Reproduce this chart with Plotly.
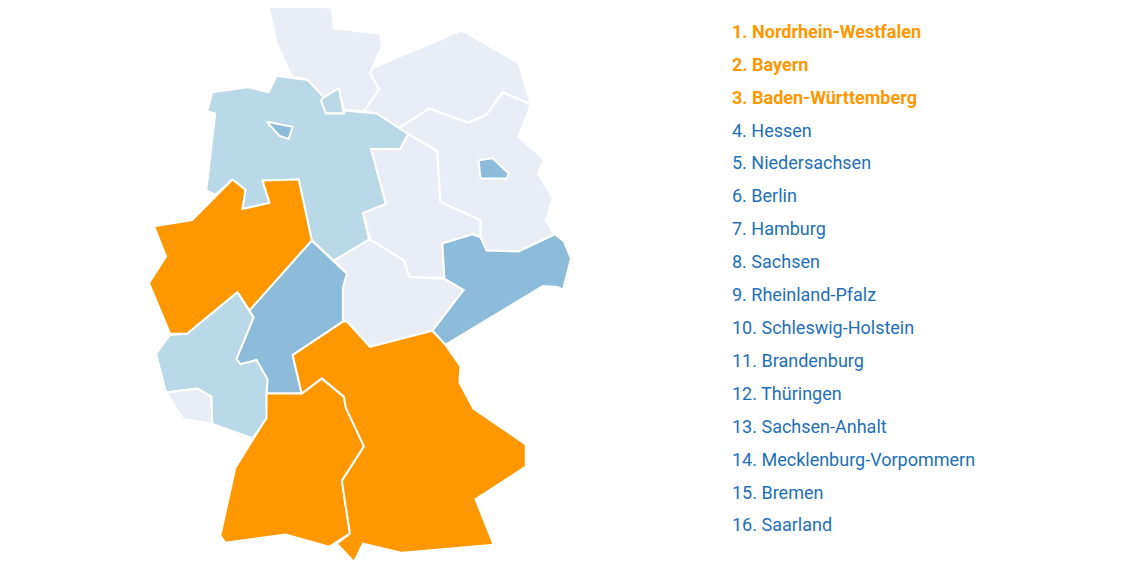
import plotly.graph_objects as go

ranking = ["Nordrhein-Westfalen", "Bayern", "Baden-Württemberg", "Hessen", "Niedersachsen",
           "Berlin", "Hamburg", "Sachsen", "Rheinland-Pfalz", "Schleswig-Holstein", "Brandenburg",
           "Thüringen", "Sachsen-Anhalt", "Mecklenburg-Vorpommern", "Bremen", "Saarland"]

# state outlines (schematic map geometry)
shapes = {
    "Schleswig-Holstein": [(267,2),(332,13),(334,33),(380,38),(382,50),(370,77),(379,93),(364,115),(344,113),(339,92),(324,101),(308,84),(292,80),(277,47)],
    "Hamburg": [(324,101),(339,92),(344,117),(326,117),(321,104)],
    "Mecklenburg-Vorpommern": [(373,72),(461,35),(518,67),(530,108),(502,96),(486,118),(468,126),(429,112),(399,131),(377,117),(364,115),(379,93),(370,77)],
    "Niedersachsen": [(213,96),(249,91),(269,96),(277,80),(308,84),(324,101),(321,104),(326,117),(344,117),(345,114),(377,117),(408,137),(400,152),(371,152),(386,206),(363,215),(369,241),(334,262),(312,242),(299,182),(263,183),(270,205),(243,211),(246,192),(233,182),(216,197),(207,193),(216,117),(208,115)],
    "Bremen": [(267,125),(293,130),(289,142),(280,139)],
    "Sachsen-Anhalt": [(408,137),(437,154),(440,204),(480,222),(480,239),(472,236),(442,245),(444,279),(409,278),(404,262),(370,241),(363,215),(386,206),(371,152),(400,152)],
    "Brandenburg": [(399,131),(429,112),(468,126),(486,118),(502,96),(530,108),(518,140),(543,162),(537,176),(552,200),(545,222),(553,236),(518,253),(486,252),(480,239),(480,222),(440,204),(437,154),(408,137)],
    "Berlin": [(478,163),(492,161),(508,176),(506,181),(480,181)],
    "Sachsen": [(442,245),(472,236),(480,239),(486,252),(518,253),(554,236),(563,243),(570,260),(562,291),(557,288),(542,287),(445,345),(432,331),(463,291),(444,280)],
    "Thüringen": [(334,262),(370,241),(404,262),(409,278),(444,280),(463,291),(432,331),(370,347),(347,322),(343,322),(343,288),(347,275)],
    "Hessen": [(312,242),(347,275),(343,288),(343,322),(293,355),(302,393),(267,393),(268,379),(257,360),(241,364),(237,359),(254,318),(250,311)],
    "Nordrhein-Westfalen": [(263,183),(299,182),(312,242),(250,311),(238,293),(188,334),(171,334),(150,284),(167,258),(155,228),(193,222),(233,182),(246,192),(243,211),(270,205)],
    "Rheinland-Pfalz": [(238,293),(250,311),(254,318),(237,359),(241,364),(257,360),(268,379),(267,393),(268,417),(253,437),(213,423),(212,396),(198,388),(167,392),(157,354),(171,335),(188,334)],
    "Saarland": [(167,392),(198,388),(212,396),(213,423),(184,418)],
    "Baden-Württemberg": [(267,393),(302,393),(322,378),(344,396),(346,407),(364,445),(342,479),(350,531),(329,544),(286,532),(226,540),(221,533),(236,466),(267,417)],
    "Bayern": [(293,355),(343,322),(347,322),(370,347),(432,331),(445,345),(460,366),(459,382),(473,408),(525,443),(525,465),(475,497),(493,542),(402,550),(363,541),(354,559),(337,541),(350,531),(342,479),(364,445),(346,407),(344,396),(322,378),(302,393)],
}

ORANGE = "#FF9800"
DARK = "#8DBBDA"
MID = "#B9D8E8"
LIGHT = "#E8EDF6"
fill = {"Nordrhein-Westfalen": ORANGE, "Bayern": ORANGE, "Baden-Württemberg": ORANGE,
        "Hessen": DARK, "Berlin": DARK, "Sachsen": DARK, "Bremen": DARK,
        "Niedersachsen": MID, "Hamburg": MID, "Rheinland-Pfalz": MID}

fig = go.Figure()
for name, pts in shapes.items():
    xs = [p[0] for p in pts] + [pts[0][0]]
    ys = [p[1] for p in pts] + [pts[0][1]]
    fig.add_trace(go.Scatter(x=xs, y=ys, mode="lines", fill="toself",
                             fillcolor=fill.get(name, LIGHT),
                             line=dict(color="white", width=2),
                             hoverinfo="text", text=name, showlegend=False))

for i, name in enumerate(ranking):
    top = i < 3
    txt = f"{i+1}. {name}"
    fig.add_annotation(x=728, y=35.9 + i * 32.44, text=f"<b>{txt}</b>" if top else txt,
                       showarrow=False, xanchor="left", yanchor="middle",
                       font=dict(family="Roboto", size=18,
                                 color=ORANGE if top else "#1E6FB8"))

fig.update_layout(width=1140, height=561, margin=dict(l=0, r=0, t=0, b=0),
                  plot_bgcolor="white", paper_bgcolor="white",
                  xaxis=dict(range=[9.7, 1144.3], visible=False, fixedrange=True),
                  yaxis=dict(range=[565.9, 12.9], visible=False, fixedrange=True))
fig.write_html("out.html")
